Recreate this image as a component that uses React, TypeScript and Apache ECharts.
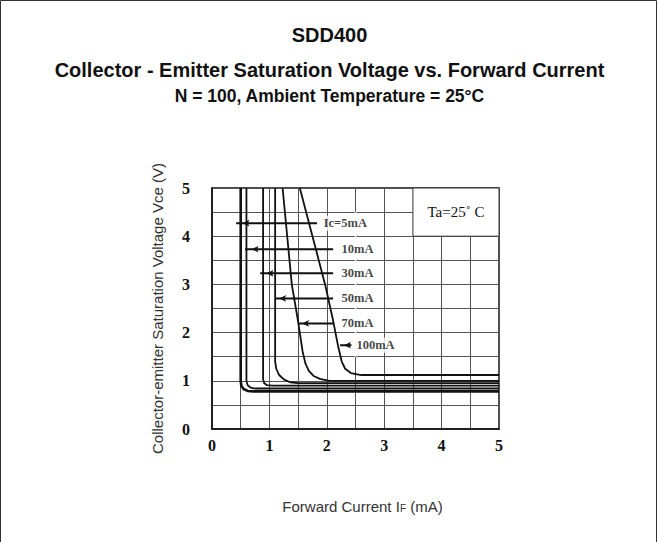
import React, { useEffect, useRef } from "react";
import * as echarts from "echarts";

// ---- data ----
const TITLE = "SDD400";
const SUBTITLE = "Collector - Emitter Saturation Voltage vs. Forward Current";
const CONDITIONS = "N = 100, Ambient Temperature = 25°C";
const X_TICKS = [0, 1, 2, 3, 4, 5];
const Y_TICKS = [0, 1, 2, 3, 4, 5];

const CURVE_NAMES = ["Ic=5mA", "10mA", "30mA", "50mA", "70mA", "100mA"];
const CURVE_5 = [[0.5, 5], [0.5, 1.0], [0.51, 0.9], [0.55, 0.83], [0.62, 0.79], [0.72, 0.78], [5, 0.78]];
const CURVE_10 = [[0.6, 5], [0.6, 1.0], [0.62, 0.91], [0.67, 0.86], [0.76, 0.84], [5, 0.84]];
const CURVE_30 = [[0.89, 5], [0.89, 1.03], [0.91, 0.95], [0.96, 0.91], [1.05, 0.9], [5, 0.9]];
const CURVE_50 = [[1.1, 5], [1.1, 1.4], [1.12, 1.25], [1.17, 1.12], [1.25, 1.03], [1.36, 0.97], [1.5, 0.95], [5, 0.95]];
const CURVE_70 = [[1.23, 5], [1.39, 3.0], [1.5, 2.23], [1.58, 1.6], [1.63, 1.35], [1.69, 1.2], [1.77, 1.1], [1.88, 1.04], [2.05, 1.0], [5, 1.0]];
const CURVE_100 = [[1.53, 5], [1.97, 3.0], [2.11, 2.25], [2.2, 1.7], [2.26, 1.4], [2.32, 1.25], [2.42, 1.16], [2.6, 1.12], [5, 1.12]];
const CURVES = [CURVE_5, CURVE_10, CURVE_30, CURVE_50, CURVE_70, CURVE_100];
const CURVE_WIDTHS = [2.6, 1.8, 1.8, 1.8, 1.8, 1.8];

// leader lines with arrows pointing at each curve
const LABEL_Y = [4.27, 3.73, 3.23, 2.71, 2.19, 1.74];
const LEADER_START = [0.42, 0.575, 0.84, 1.1, 1.5, 2.23];
const ARROW_X = [0.53, 0.69, 0.95, 1.17, 1.57, 2.3];
const LEADER_END = [1.83, 2.11, 2.11, 2.11, 2.11, 2.43];
const TEXT_X = [1.92, 2.23, 2.23, 2.23, 2.23, 2.49];

const TA_LABEL = "Ta=25˚ C";
const TA_BOX = [[3.5, 5], [5, 4]];
const GRID_GAP = [[2.5, 1.5], [2.5, 4.5]];

const X_NAME = "Forward Current I{s|F} (mA)";
const Y_NAME = "Collector-emitter Saturation Voltage Vce (V)";

export default function App() {
  const ref = useRef<HTMLDivElement>(null);
  useEffect(() => {
    if (!ref.current) return;
    const chart = echarts.init(ref.current, undefined, { renderer: "svg" });
    const serif = "'Liberation Serif', 'Times New Roman', serif";
    const sans = "'Liberation Sans', Arial, sans-serif";

    const curveSeries = CURVES.map((c, i) => ({
      type: "line",
      name: CURVE_NAMES[i],
      data: c,
      showSymbol: false,
      symbol: "none",
      lineStyle: { color: "#111", width: CURVE_WIDTHS[i] },
      z: 5,
      silent: true,
    }));

    const leaderSeries = LABEL_Y.map((y, i) => ({
      type: "line",
      data: [
        { value: [LEADER_START[i], y], symbol: "none" },
        { value: [ARROW_X[i], y], symbol: "arrow", symbolSize: [5, 7], symbolRotate: 90 },
        { value: [LEADER_END[i], y], symbol: "none" },
      ],
      showSymbol: true,
      itemStyle: { color: "#111" },
      lineStyle: { color: "#111", width: 2 },
      z: 6,
      silent: true,
    }));

    const textSeries = {
      type: "scatter",
      data: LABEL_Y.map((y, i) => ({ value: [TEXT_X[i], y], name: CURVE_NAMES[i] })),
      symbolSize: 1,
      itemStyle: { color: "rgba(0,0,0,0)" },
      z: 7,
      silent: true,
      label: {
        show: true,
        position: "right",
        distance: 0,
        formatter: (p: any) => p.name,
        fontFamily: serif,
        fontWeight: "bold",
        fontSize: 12.5,
        color: "#111",
        backgroundColor: "#fff",
        padding: [1, 1],
      },
    };

    const gapSeries = {
      type: "line",
      data: GRID_GAP,
      symbol: "none",
      lineStyle: { color: "#fff", width: 1.6 },
      z: 3,
      silent: true,
      markArea: {
        silent: true,
        itemStyle: { color: "#fff", borderColor: "#333", borderWidth: 1, opacity: 1 },
        label: {
          show: true,
          position: "inside",
          formatter: TA_LABEL,
          fontFamily: serif,
          fontSize: 15,
          color: "#111",
        },
        data: [[{ coord: TA_BOX[0] }, { coord: TA_BOX[1] }]],
      },
    };

    const axisCommon = {
      type: "value",
      min: 0,
      max: 5,
      interval: 0.5,
      axisTick: { show: false },
      axisLine: { show: true, lineStyle: { color: "#111", width: 1.5 } },
      splitLine: { show: true, lineStyle: { color: "#555", width: 1 } },
    };

    chart.setOption({
      animation: false,
      backgroundColor: "#fff",
      grid: {
        left: 212,
        right: 160,
        top: 188,
        bottom: 113,
        show: true,
        borderColor: "#111",
        borderWidth: 1.5,
        backgroundColor: "#fff",
      },
      xAxis: {
        ...axisCommon,
        axisLabel: {
          formatter: (v: number) => (X_TICKS.includes(v) ? String(v) : ""),
          fontFamily: serif,
          fontWeight: "bold",
          fontSize: 16,
          color: "#111",
          margin: 8,
        },
        name: X_NAME,
        nameLocation: "middle",
        nameGap: 70,
        nameTextStyle: {
          fontFamily: sans,
          fontSize: 15,
          color: "#333",
          padding: [0, 0, 0, 14],
          rich: { s: { fontFamily: sans, fontSize: 10, color: "#333", padding: [4, 0, 0, 0] } },
        },
      },
      yAxis: {
        ...axisCommon,
        axisLabel: {
          formatter: (v: number) => (Y_TICKS.includes(v) ? String(v) : ""),
          fontFamily: serif,
          fontWeight: "bold",
          fontSize: 16,
          color: "#111",
          margin: 22,
        },
        name: Y_NAME,
        nameLocation: "middle",
        nameGap: 47,
        nameTextStyle: { fontFamily: sans, fontSize: 15, color: "#333" },
      },
      graphic: [
        {
          type: "rect",
          shape: { x: 0.5, y: 0.5, width: 656, height: 560 },
          style: { fill: "none", stroke: "#333", lineWidth: 1 },
          silent: true,
        },
        {
          type: "text",
          x: 329.5,
          y: 35,
          style: { text: TITLE, font: `bold 20px ${sans}`, fill: "#111", textAlign: "center", textVerticalAlign: "middle" },
        },
        {
          type: "text",
          x: 329.5,
          y: 70,
          style: { text: SUBTITLE, font: `bold 20px ${sans}`, fill: "#111", textAlign: "center", textVerticalAlign: "middle" },
        },
        {
          type: "text",
          x: 329.5,
          y: 96,
          style: { text: CONDITIONS, font: `bold 17.5px ${sans}`, fill: "#111", textAlign: "center", textVerticalAlign: "middle" },
        },
      ],
      series: [gapSeries, ...curveSeries, ...leaderSeries, textSeries],
    });
    return () => chart.dispose();
  }, []);
  return <div ref={ref} style={{ position: "absolute", left: 0, top: 0, width: 659, height: 542 }} />;
}
